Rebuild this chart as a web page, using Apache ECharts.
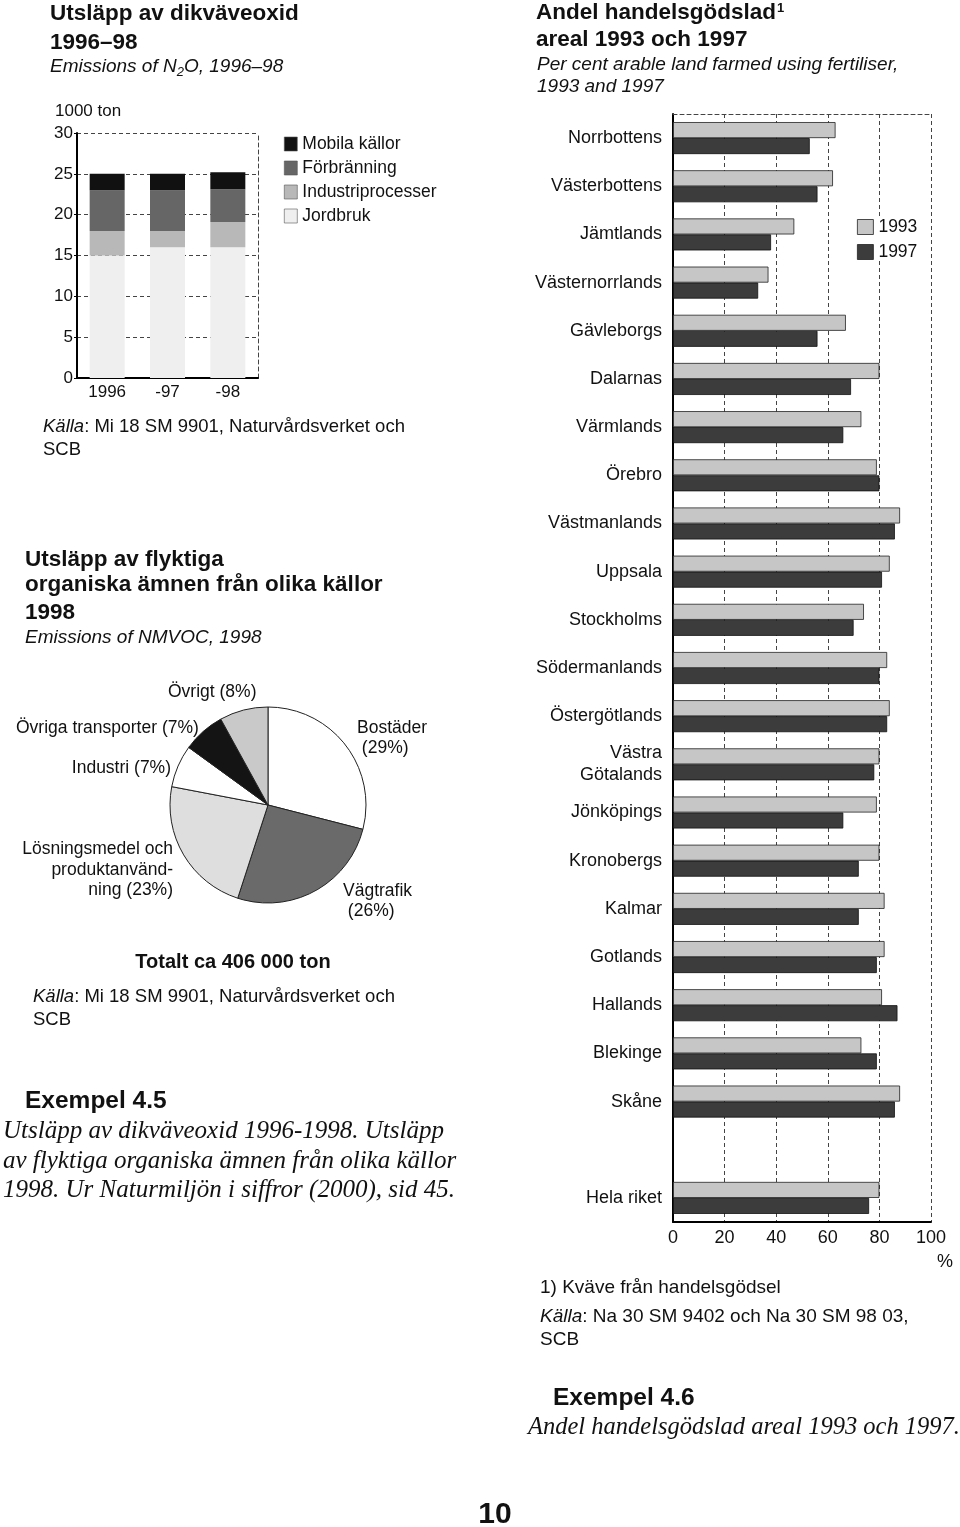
<!DOCTYPE html>
<html>
<head>
<meta charset="utf-8" />
<title>Exempel 4.5 och 4.6</title>
<script src="https://cdn.jsdelivr.net/npm/echarts@6/dist/echarts.min.js"></script>
<style>
  html, body { margin: 0; padding: 0; background: #fff; }
  #main { width: 960px; height: 1527px; }
</style>
</head>
<body>
<div id="main"></div>
<script>
// Utsläpp av dikväveoxid, 1000 ton
var years = ['1996', '-97', '-98'];
var jordbruk = [15, 16, 16];
var industriprocesser = [3, 2, 3.1];
var forbranning = [5, 5, 4];
var mobila = [2, 2, 2.1];

// NMVOC 1998, andel i procent (medurs från kl 12)
var vocNames = ['Bostäder', 'Vägtrafik', 'Lösningsmedel och produktanvändning', 'Industri', 'Övriga transporter', 'Övrigt'];
var vocShare = [29, 26, 23, 7, 7, 8];

// Andel handelsgödslad areal, procent
var lan = ['Norrbottens', 'Västerbottens', 'Jämtlands', 'Västernorrlands', 'Gävleborgs', 'Dalarnas',
  'Värmlands', 'Örebro', 'Västmanlands', 'Uppsala', 'Stockholms', 'Södermanlands', 'Östergötlands',
  'Västra\nGötalands', 'Jönköpings', 'Kronobergs', 'Kalmar', 'Gotlands', 'Hallands', 'Blekinge',
  'Skåne', '', 'Hela riket'];
var ar1993 = [63, 62, 47, 37, 67, 80, 73, 79, 88, 84, 74, 83, 84, 80, 79, 80, 82, 82, 81, 73, 88, '-', 80];
var ar1997 = [53, 56, 38, 33, 56, 69, 66, 80, 86, 81, 70, 80, 83, 78, 66, 72, 72, 79, 87, 79, 86, '-', 76];

var SANS = '"Liberation Sans", Arial, sans-serif';
var SERIF = '"Liberation Serif", "Times New Roman", serif';
var INK = '#111';

// textrad som grafikelement
function t(x, y, text, size, opt) {
  opt = opt || {};
  return {
    type: 'text', x: x, y: y, silent: true,
    style: {
      text: text,
      fill: INK,
      fontSize: size,
      fontFamily: opt.family || SANS,
      fontWeight: opt.bold ? 'bold' : 'normal',
      fontStyle: opt.italic ? 'italic' : 'normal',
      lineHeight: opt.lh,
      align: opt.align || 'left',
      textAlign: opt.align || 'left',
      verticalAlign: 'middle',
      textVerticalAlign: 'middle',
      rich: opt.rich
    }
  };
}
function kalla(size) {
  return { i: { fontStyle: 'italic', fontSize: size, fontFamily: SANS, fill: INK } };
}

var gridLine = { show: true, lineStyle: { color: '#444', type: [4, 3], width: 1 } };
var dashedAxis = { show: true, lineStyle: { color: '#444', type: [4, 3], width: 1 } };

var myChart = echarts.init(document.getElementById('main'));
myChart.setOption({
  animation: false,
  backgroundColor: '#fff',
  textStyle: { fontFamily: SANS, color: INK },
  grid: [
    { left: 77, top: 133, width: 181, height: 245 },
    { left: 673, top: 114, width: 258, height: 1108 }
  ],
  legend: [
    {
      data: ['Mobila källor', 'Förbränning', 'Industriprocesser', 'Jordbruk'],
      orient: 'vertical', left: 284, top: 135, padding: 0,
      itemWidth: 13, itemHeight: 14, itemGap: 6,
      icon: 'rect',
      itemStyle: { borderColor: '#555', borderWidth: 0.6 },
      textStyle: { fontSize: 17.5, color: INK, fontFamily: SANS },
      selectedMode: false
    },
    {
      data: ['1993', '1997'],
      orient: 'vertical', left: 857, top: 218, padding: [0, 6, 0, 0],
      itemWidth: 16, itemHeight: 15, itemGap: 7,
      icon: 'rect', backgroundColor: '#fff',
      itemStyle: { borderColor: '#222', borderWidth: 0.8 },
      textStyle: { fontSize: 17.5, color: INK, fontFamily: SANS },
      selectedMode: false
    }
  ],
  xAxis: [
    {
      gridIndex: 0, type: 'category', data: years,
      axisLine: { lineStyle: { color: '#000', width: 2 } },
      axisTick: { show: false },
      axisLabel: { fontSize: 17, color: INK, margin: 6 }
    },
    {
      gridIndex: 1, type: 'value', min: 0, max: 100, interval: 20,
      axisLine: { show: true, lineStyle: { color: '#000', width: 2 } },
      axisTick: { show: false },
      axisLabel: { fontSize: 18, color: INK, margin: 7 },
      splitLine: gridLine
    },
    {
      gridIndex: 1, type: 'value', min: 0, max: 100, position: 'top',
      axisLine: dashedAxis, axisTick: { show: false },
      axisLabel: { show: false }, splitLine: { show: false }
    }
  ],
  yAxis: [
    {
      gridIndex: 0, type: 'value', min: 0, max: 30, interval: 5,
      axisLine: { show: true, lineStyle: { color: '#000', width: 2 } },
      axisTick: { show: true, length: 3, lineStyle: { color: '#000' } },
      axisLabel: { fontSize: 17, color: INK, margin: 4 },
      splitLine: gridLine
    },
    {
      gridIndex: 0, type: 'value', min: 0, max: 30, position: 'right',
      axisLine: dashedAxis, axisTick: { show: false },
      axisLabel: { show: false }, splitLine: { show: false }
    },
    {
      gridIndex: 1, type: 'category', data: lan, inverse: true,
      axisLine: { lineStyle: { color: '#000', width: 2 } },
      axisTick: { show: false },
      axisLabel: { fontSize: 18, color: INK, margin: 11, lineHeight: 22 }
    }
  ],
  series: [
    { name: 'Jordbruk', type: 'bar', stack: 'n2o', data: jordbruk, barWidth: 35,
      itemStyle: { color: '#efefef' } },
    { name: 'Industriprocesser', type: 'bar', stack: 'n2o', data: industriprocesser,
      itemStyle: { color: '#b8b8b8' } },
    { name: 'Förbränning', type: 'bar', stack: 'n2o', data: forbranning,
      itemStyle: { color: '#666' } },
    { name: 'Mobila källor', type: 'bar', stack: 'n2o', data: mobila,
      itemStyle: { color: '#111' } },
    {
      type: 'pie', center: [268, 805], radius: 98, startAngle: 90, clockwise: true,
      label: { show: false }, labelLine: { show: false }, silent: true,
      itemStyle: { borderColor: '#222', borderWidth: 1 },
      data: vocNames.map(function (n, i) {
        return { name: n, value: vocShare[i],
          itemStyle: { color: ['#fff', '#6a6a6a', '#dedede', '#fff', '#141414', '#c9c9c9'][i] } };
      })
    },
    { name: '1993', type: 'bar', xAxisIndex: 1, yAxisIndex: 2, data: ar1993,
      barWidth: 16, barGap: '0%',
      itemStyle: { color: '#c6c6c6', borderColor: '#222', borderWidth: 0.8 } },
    { name: '1997', type: 'bar', xAxisIndex: 1, yAxisIndex: 2, data: ar1997,
      barWidth: 16, barGap: '0%',
      itemStyle: { color: '#3c3c3c', borderColor: '#111', borderWidth: 0.8 } }
  ],
  graphic: [
    // dikväveoxid
    t(50, 14, 'Utsläpp av dikväveoxid', 22.5, { bold: true }),
    t(50, 43, '1996–98', 22.5, { bold: true }),
    t(50, 67, 'Emissions of N{s|2}O, 1996–98', 19, { italic: true,
      rich: { s: { fontSize: 13, fontStyle: 'italic', fontFamily: SANS, fill: INK, padding: [10, 0, 0, 0] } } }),
    t(55, 111, '1000 ton', 17),
    t(43, 427, '{i|Källa}: Mi 18 SM 9901, Naturvårdsverket och', 18.5, { rich: kalla(18.5) }),
    t(43, 450, 'SCB', 18.5),

    // NMVOC
    t(25, 560, 'Utsläpp av flyktiga', 22.5, { bold: true }),
    t(25, 585, 'organiska ämnen från olika källor', 22.5, { bold: true }),
    t(25, 613, '1998', 22.5, { bold: true }),
    t(25, 638, 'Emissions of NMVOC, 1998', 19, { italic: true }),
    t(168, 692, vocNames[5] + ' (' + vocShare[5] + '%)', 17.5),
    t(16, 728, vocNames[4] + ' (' + vocShare[4] + '%)', 17.5),
    t(171, 768, vocNames[3] + ' (' + vocShare[3] + '%)', 17.5, { align: 'right' }),
    t(173, 870, 'Lösningsmedel och\nproduktanvänd-\nning (' + vocShare[2] + '%)', 17.5, { align: 'right', lh: 20.5 }),
    t(357, 738, vocNames[0] + '\n (' + vocShare[0] + '%)', 17.5, { lh: 20 }),
    t(343, 901, vocNames[1] + '\n (' + vocShare[1] + '%)', 17.5, { lh: 20 }),
    t(233, 962, 'Totalt ca 406 000 ton', 20, { bold: true, align: 'center' }),
    t(33, 997, '{i|Källa}: Mi 18 SM 9901, Naturvårdsverket och', 18.5, { rich: kalla(18.5) }),
    t(33, 1020, 'SCB', 18.5),

    // Exempel 4.5
    t(25, 1101, 'Exempel 4.5', 24.5, { bold: true }),
    t(3, 1131, 'Utsläpp av dikväveoxid 1996-1998. Utsläpp', 25, { italic: true, family: SERIF }),
    t(3, 1161, 'av flyktiga organiska ämnen från olika källor', 25, { italic: true, family: SERIF }),
    t(3, 1190, '1998. Ur Naturmiljön i siffror (2000), sid 45.', 25, { italic: true, family: SERIF }),

    // handelsgödslad areal
    t(536, 13, 'Andel handelsgödslad{sup|1}', 22.5, { bold: true,
      rich: { sup: { fontSize: 13, fontWeight: 'bold', fontFamily: SANS, fill: INK, padding: [0, 0, 10, 1] } } }),
    t(536, 40, 'areal 1993 och 1997', 22.5, { bold: true }),
    t(537, 65, 'Per cent arable land farmed using fertiliser,', 19, { italic: true }),
    t(537, 87, '1993 and 1997', 19, { italic: true }),
    t(945, 1262, '%', 18, { align: 'center' }),
    t(540, 1288, '1) Kväve från handelsgödsel', 19),
    t(540, 1317, '{i|Källa}: Na 30 SM 9402 och Na 30 SM 98 03,', 19, { rich: kalla(19) }),
    t(540, 1340, 'SCB', 19),
    t(553, 1398, 'Exempel 4.6', 24.5, { bold: true }),
    t(528, 1428, 'Andel handelsgödslad areal 1993 och 1997.', 24.5, { italic: true, family: SERIF }),

    t(495, 1515, '10', 30, { bold: true, align: 'center' })
  ]
});
</script>
</body>
</html>
